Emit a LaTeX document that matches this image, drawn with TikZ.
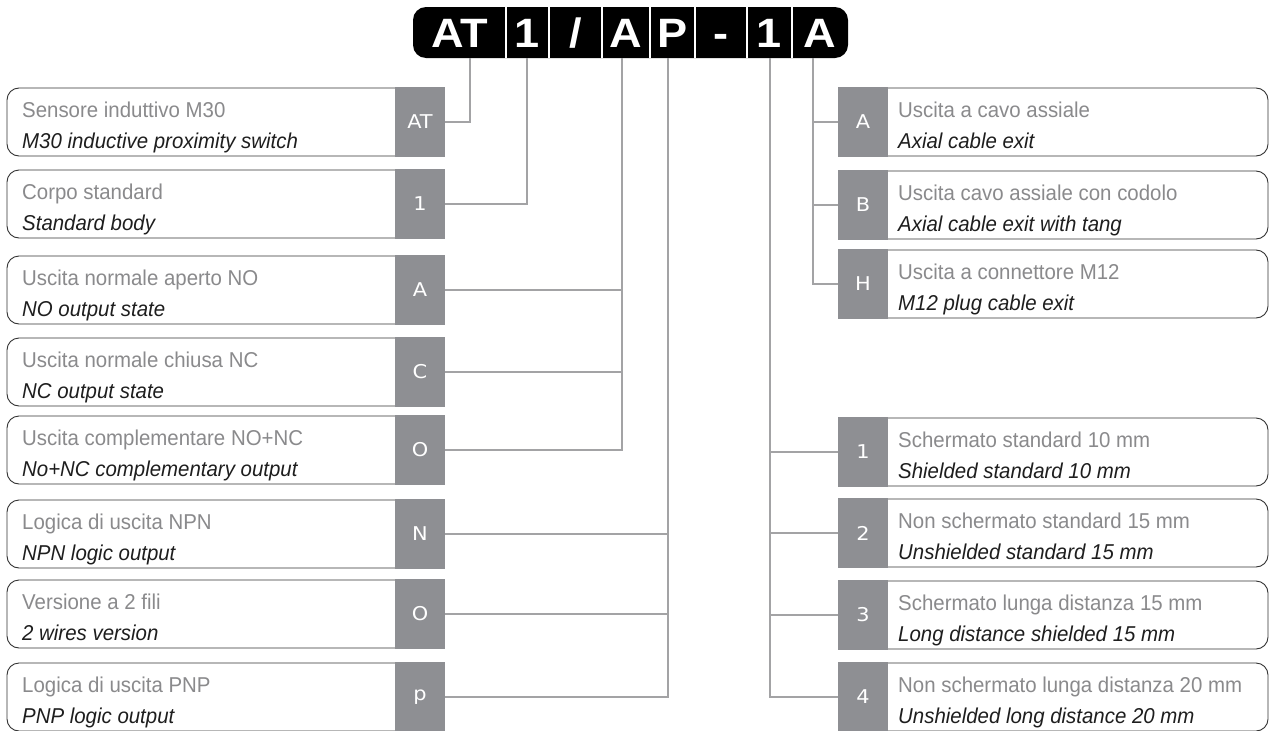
\documentclass[tikz,border=0pt]{standalone}
\usepackage{fontspec}
\setmainfont{Liberation Sans}[FakeStretch=0.95]
\newfontfamily\hdrfont{Liberation Sans}[FakeStretch=1.1]
\newfontfamily\lblfont{DejaVu Sans}[FakeStretch=1.1]
\usetikzlibrary{calc}
\definecolor{boxgray}{HTML}{8E8F93}
\definecolor{linegray}{HTML}{A3A3A5}
\definecolor{txtgray}{HTML}{8A8A8C}
\definecolor{txtdark}{HTML}{1E1E1E}
\begin{document}
\begin{tikzpicture}[x=1pt,y=-1pt,
  conn/.style={draw=linegray,line width=2.2pt},
  framebox/.style={draw=black!80,line width=0.9pt,rounded corners=12pt},
  lbl/.style={fill=boxgray,minimum width=50pt,minimum height=70pt,inner sep=0pt,text=white,font=\lblfont\fontsize{19}{19}\selectfont},
  descA/.style={anchor=base west,inner sep=0pt,text=txtgray,font=\fontsize{21.5}{24}\selectfont},
  descB/.style={anchor=base west,inner sep=0pt,text=txtdark,font=\fontsize{21.5}{24}\selectfont\itshape},
  cell/.style={text=white,font=\hdrfont\bfseries\fontsize{41}{41}\selectfont,inner sep=0pt,anchor=base}
]
\useasboundingbox (0,0) rectangle (1275,731);
\fill[white] (0,0) rectangle (1275,731);

% header bar
\node[fill=black,rounded corners=13pt,minimum width=435pt,minimum height=51pt,inner sep=0pt] (bar) at (630.5,32.5) {};
\foreach \x in {506,549,602,650,695,747,792}
  \draw[white,line width=1.6pt] (\x,7) -- (\x,58);
\node[cell] (cAT) at (459.5,47) {AT};
\node[cell] (c1) at (527.5,47) {1};
\node[cell] (cS) at (575.5,47) {/};
\node[cell] (cA) at (626,47) {A};
\node[cell] (cP) at (672.5,47) {P};
\node[cell] (cD) at (721,47) {-};
\node[cell] (cR1) at (769.5,47) {1};
\node[cell] (cRA) at (820,47) {A};

\coordinate (kAT) at (470,58);
\coordinate (k1) at (527,58);
\coordinate (kA) at (622,58);
\coordinate (kP) at (668,58);
\coordinate (kR1) at (770,58);
\coordinate (kRA) at (813,58);

% left rows
\foreach \c/\n/\l/\a/\b in {
  122/lAT/AT/Sensore induttivo M30/M30 inductive proximity switch,
  204/l1/1/Corpo standard/Standard body,
  290/lA/A/Uscita normale aperto NO/NO output state,
  372/lC/C/Uscita normale chiusa NC/NC output state,
  450/lO/O/Uscita complementare NO+NC/No+NC complementary output,
  534/lN/N/Logica di uscita NPN/NPN logic output,
  614/lOb/O/Versione a 2 fili/2 wires version,
  697/lP/p/Logica di uscita PNP/PNP logic output}{
  \draw[framebox] (420,\c-34) -- (7,\c-34) -- (7,\c+34) -- (420,\c+34);
  \node[lbl] (\n) at (420,\c) {\l};
  \node[descA] (\n a) at (22,\c-5) {\a};
  \node[descB] (\n b) at (22,\c+26) {\b};
}

% right rows
\foreach \c/\n/\l/\a/\b in {
  122/rA/A/Uscita a cavo assiale/Axial cable exit,
  205/rB/B/Uscita cavo assiale con codolo/Axial cable exit with tang,
  284/rH/H/Uscita a connettore M12/M12 plug cable exit,
  452/r1/1/Schermato standard 10 mm/Shielded standard 10 mm,
  533/r2/2/Non schermato standard 15 mm/Unshielded standard 15 mm,
  615/r3/3/Schermato lunga distanza 15 mm/Long distance shielded 15 mm,
  697/r4/4/Non schermato lunga distanza 20 mm/Unshielded long distance 20 mm}{
  \draw[framebox] (860,\c-34) -- (1268,\c-34) -- (1268,\c+34) -- (860,\c+34);
  \node[lbl] (\n) at (863,\c) {\l};
  \node[descA] (\n a) at (898,\c-5) {\a};
  \node[descB] (\n b) at (898,\c+26) {\b};
}

% connectors
\draw[conn] (kAT) |- (lAT.east);
\draw[conn] (k1) |- (l1.east);
\draw[conn] (kA) |- (lO.east);
\draw[conn] (lA.east) -- (lA.east -| kA);
\draw[conn] (lC.east) -- (lC.east -| kA);
\draw[conn] (kP) |- (lP.east);
\draw[conn] (lN.east) -- (lN.east -| kP);
\draw[conn] (lOb.east) -- (lOb.east -| kP);
\draw[conn] (kR1) |- (r4.west);
\draw[conn] (r1.west) -- (r1.west -| kR1);
\draw[conn] (r2.west) -- (r2.west -| kR1);
\draw[conn] (r3.west) -- (r3.west -| kR1);
\draw[conn] (kRA) |- (rH.west);
\draw[conn] (rA.west) -- (rA.west -| kRA);
\draw[conn] (rB.west) -- (rB.west -| kRA);
\end{tikzpicture}
\end{document}
